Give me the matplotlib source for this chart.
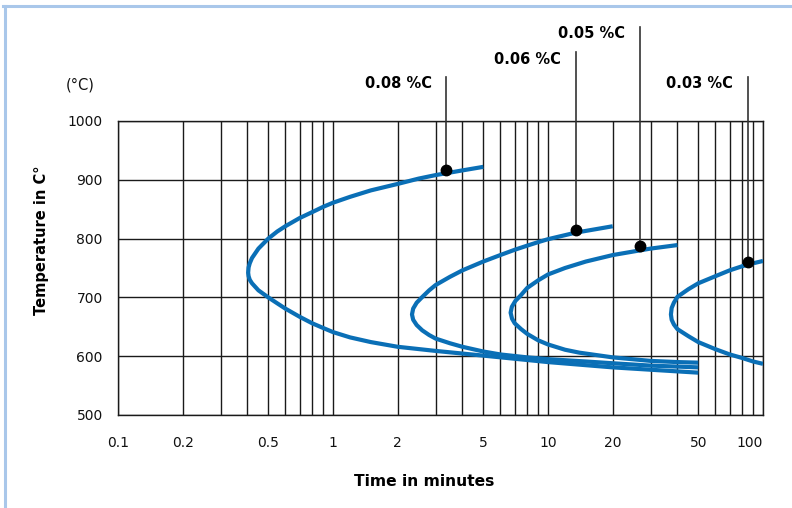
import matplotlib
matplotlib.use("Agg")
import matplotlib.pyplot as plt
from matplotlib.ticker import FixedLocator, NullFormatter, LogLocator
from matplotlib.lines import Line2D

plt.rcParams['font.family'] = ['DejaVu Sans']

# ---- data (time in minutes, temperature in deg C) ----
c008_t = [5.0, 4.0, 3.0, 2.5, 2.0, 1.5, 1.2, 1.0, 0.9, 0.8, 0.7, 0.6, 0.55, 0.5, 0.45, 0.42, 0.41, 0.405, 0.403,
          0.405, 0.41, 0.42, 0.45, 0.5, 0.55, 0.6, 0.7, 0.8, 0.9, 1.0, 1.2, 1.5, 2.0, 3.0, 5.0, 10, 20, 30, 50]
c008_T = [922, 916, 908, 902, 893, 882, 871, 861, 854, 845, 835, 821, 812, 800, 783, 767, 758, 751, 742,
          736, 730, 724, 712, 700, 690, 681, 667, 656, 648, 641, 632, 624, 616, 609, 601, 590, 581, 577, 572]

c006_t = [20, 13.4, 10, 9, 8, 7, 6, 5, 4, 3.5, 3.0, 2.8, 2.59, 2.45, 2.36, 2.33,
          2.36, 2.45, 2.6, 2.8, 3.0, 3.5, 4.0, 5.0, 6.0, 8.0, 10, 15, 20, 30, 50]
c006_T = [821, 810, 799, 794, 788, 781, 772, 761, 746, 735, 721, 712, 700, 691, 681, 671,
          662, 653, 644, 636, 630, 622, 616, 608, 603, 598, 595, 591, 588, 584, 581]

c005_t = [40, 30, 26.8, 20, 15, 12, 10, 9, 8, 7.45, 7.05, 6.79, 6.7,
          6.8, 7.0, 7.5, 8, 9, 10, 12, 14, 20, 30, 40, 50]
c005_T = [789, 783, 780, 772, 761, 750, 739, 729, 716, 703, 694, 684, 674,
          664, 656, 646, 638, 627, 620, 611, 606, 598, 592, 590, 589]

c003_t = [100, 90, 80, 70, 60, 50, 45, 40, 38.5, 37.6, 37.3,
          37.6, 38.5, 40, 45, 50, 60, 70, 80, 90, 100]
c003_T = [762, 758, 753, 746, 736, 724, 714, 701, 691, 682, 671,
          662, 654, 646, 634, 624, 612, 603, 597, 591, 587]

curves_t = [c008_t, c006_t, c005_t, c003_t]
curves_T = [c008_T, c006_T, c005_T, c003_T]

labels = ["0.08 %C", "0.06 %C", "0.05 %C", "0.03 %C"]
dot_t = [3.37, 13.45, 26.8, 85]
dot_T = [917, 814, 787, 761]
line_top_T = [1075, 1117, 1160, 1075]

x_ticks = [0.1, 0.2, 0.5, 1, 2, 5, 10, 20, 50, 100]
x_ticklabels = ["0.1", "0.2", "0.5", "1", "2", "5", "10", "20", "50", "100"]
y_ticks = [500, 600, 700, 800, 900, 1000]

# ---- figure ----
fig = plt.figure(figsize=(7.92, 5.08), dpi=100)
ax = fig.add_axes([118/792, 1-415/508, (763-118)/792, (415-121)/508])

ax.set_xscale('log')
ax.set_xlim(0.1, 100)
ax.set_ylim(500, 1000)

ax.xaxis.set_major_locator(FixedLocator(x_ticks))
ax.set_xticklabels(x_ticklabels)
ax.xaxis.set_minor_locator(LogLocator(base=10, subs=[2, 3, 4, 5, 6, 7, 8, 9], numticks=20))
ax.xaxis.set_minor_formatter(NullFormatter())
ax.set_yticks(y_ticks)

grid_kw = dict(color='#1a1a1a', linewidth=1.0)
ax.grid(True, which='both', axis='x', **grid_kw)
ax.grid(True, which='major', axis='y', **grid_kw)
ax.set_axisbelow(True)
for s in ax.spines.values():
    s.set_color('#1a1a1a')
    s.set_linewidth(1.0)

ax.tick_params(axis='both', which='both', length=0, labelsize=10, colors='#111111')
ax.tick_params(axis='x', pad=15)
ax.tick_params(axis='y', pad=11)
lbls = ax.get_xticklabels()
lbls[-1].set_horizontalalignment('right')

for tt, TT in zip(curves_t, curves_T):
    ax.plot(tt, TT, color='#0a6fb6', linewidth=3.0, solid_capstyle='butt',
            solid_joinstyle='round', zorder=3)

ax.plot(dot_t, dot_T, 'o', color='black', markersize=7.5, zorder=5)

for lab, t, T, top in zip(labels, dot_t, dot_T, line_top_T):
    ax.plot([t, t], [T, top], color='#333333', linewidth=1.2, clip_on=False, zorder=4)
    ax.annotate(lab, xy=(t, top), xytext=(-10.5, -5), textcoords='offset points',
                ha='right', va='center', fontsize=10.5, fontweight='bold',
                annotation_clip=False)

fig.text(66/792, 1-85/508, "(°C)", fontsize=10.5, ha='left', va='center', color='#111111')
fig.text(42/792, 1-240/508, "Temperature in C°", rotation=90, fontsize=10.5,
         fontweight='bold', ha='center', va='center')
fig.text(424/792, 1-481/508, "Time in minutes", fontsize=11.2, fontweight='bold',
         ha='center', va='center')

# light blue frame (left and top)
frame_c = '#a9c7ea'
fig.add_artist(Line2D([4.5/792, 4.5/792], [0, 1-6/508], transform=fig.transFigure,
                      color=frame_c, linewidth=2.2))
fig.add_artist(Line2D([3.4/792, 1], [1-6/508, 1-6/508], transform=fig.transFigure,
                      color=frame_c, linewidth=2.2))

fig.savefig("out.png", dpi=100)
